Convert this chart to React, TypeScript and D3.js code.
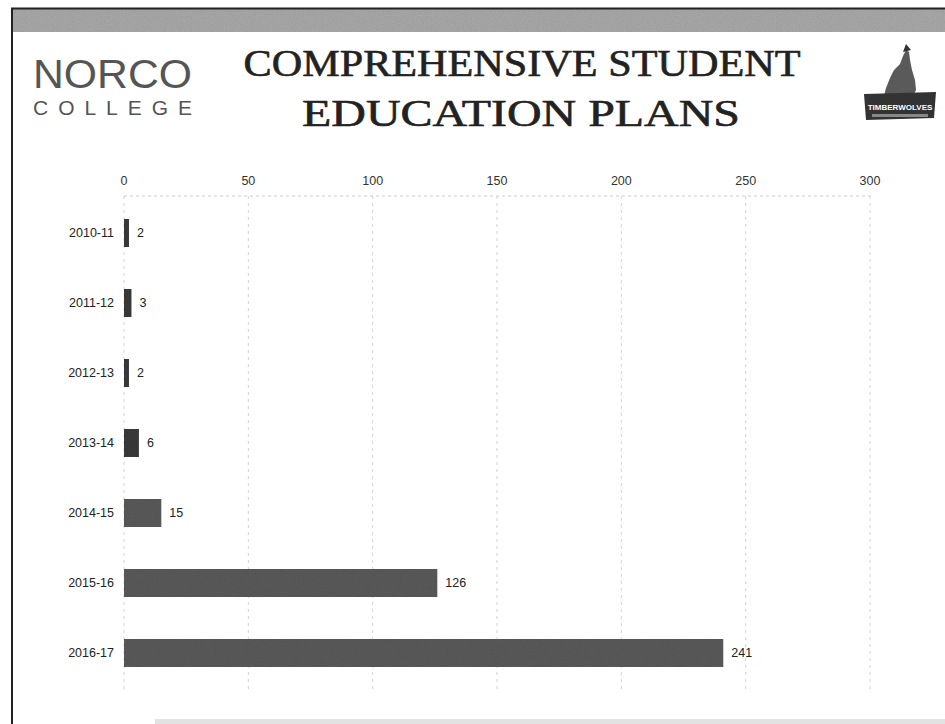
import React from "react";
import * as d3 from "d3";

const categories = ["2010-11", "2011-12", "2012-13", "2013-14", "2014-15", "2015-16", "2016-17"];
const values = [2, 3, 2, 6, 15, 126, 241];
const tickValues = [0, 50, 100, 150, 200, 250, 300];

const W = 945;
const H = 724;

export default function App() {
  const x = d3.scaleLinear().domain([0, 300]).range([124, 870]);
  const y = d3
    .scaleBand<string>()
    .domain(categories)
    .range([198, 688])
    .paddingInner(0.6)
    .paddingOuter(0.3);
  const font = "Arial, 'Liberation Sans', sans-serif";
  const serif = "'Liberation Serif', 'DejaVu Serif', serif";

  return (
    <svg
      width={W}
      height={H}
      viewBox={`0 0 ${W} ${H}`}
      style={{ position: "absolute", left: 0, top: 0, background: "#fff" }}
    >
      <defs>
        <filter id="grain" x="0" y="0" width="100%" height="100%">
          <feTurbulence type="fractalNoise" baseFrequency="0.9" numOctaves="2" seed="3" result="n" />
          <feColorMatrix in="n" type="saturate" values="0" result="g" />
          <feComponentTransfer in="g" result="g2">
            <feFuncA type="linear" slope="0.35" />
          </feComponentTransfer>
          <feComposite in="g2" in2="SourceGraphic" operator="in" result="g3" />
          <feBlend in="SourceGraphic" in2="g3" mode="multiply" />
        </filter>
      </defs>

      {/* page frame */}
      <rect x={12} y={9} width={W - 12} height={23} fill="#a9a9a9" filter="url(#grain)" />
      <line x1={11} x2={W} y1={8.5} y2={8.5} stroke="#222" strokeWidth={2} />
      <line x1={12} x2={12} y1={8} y2={H} stroke="#222" strokeWidth={2} />
      <rect x={155} y={719} width={W - 155} height={5} fill="#e2e2e2" />

      {/* Norco College logo */}
      <text x={33} y={88} fontFamily={font} fontSize={41} fill="#555" textLength={159} lengthAdjust="spacingAndGlyphs">
        NORCO
      </text>
      <text x={33} y={115} fontFamily={font} fontSize={21} fill="#555" textLength={159} lengthAdjust="spacing">
        COLLEGE
      </text>

      {/* Title */}
      <text x={522} y={76} textAnchor="middle" fontFamily={serif} fontSize={37} fill="#222" stroke="#222" strokeWidth={0.6} textLength={557} lengthAdjust="spacingAndGlyphs">
        COMPREHENSIVE STUDENT
      </text>
      <text x={521} y={126} textAnchor="middle" fontFamily={serif} fontSize={37} fill="#222" stroke="#222" strokeWidth={0.6} textLength={438} lengthAdjust="spacingAndGlyphs">
        EDUCATION PLANS
      </text>

      {/* Timberwolves logo */}
      <g>
        <path
          d="M906,50 L903,56 L900,64 L894,70 L890,78 L886,88 L884,96 L890,98 L912,98 L916,90 L915,80 L912,70 L910,60 L909,52 Z"
          fill="#5a5a5a"
        />
        <path d="M903,52 L906,44 L911,50 Z" fill="#333" />
        <path d="M864,94 L936,92 L934,118 L866,120 Z" fill="#333" />
        <text x={900} y={110} textAnchor="middle" fontFamily={font} fontWeight="bold" fontSize={8} fill="#fff">
          TIMBERWOLVES
        </text>
        <rect x={872} y={114} width={56} height={3} fill="#888" />
      </g>

      {/* grid */}
      <line x1={x(0)} x2={x(300) + 2} y1={196} y2={196} stroke="#ccc" strokeDasharray="3,3" />
      {tickValues.map((t) => (
        <g key={t}>
          <line x1={x(t)} x2={x(t)} y1={196} y2={690} stroke="#d4d4d4" strokeDasharray="3,4" />
          <text x={x(t)} y={185} textAnchor="middle" fontFamily={font} fontSize={12.5} fill="#333">
            {t}
          </text>
        </g>
      ))}

      {/* bars */}
      {categories.map((c, i) => {
        const by = y(c) ?? 0;
        const bh = y.bandwidth();
        return (
          <g key={c}>
            <rect
              x={x(0)}
              y={by}
              width={x(values[i]) - x(0)}
              height={bh}
              fill={values[i] < 10 ? "#3a3a3a" : "#5a5a5a"}
              filter="url(#grain)"
            />
            <text x={114} y={by + bh / 2} dy="0.35em" textAnchor="end" fontFamily={font} fontSize={12.5} fill="#222">
              {c}
            </text>
            <text x={x(values[i]) + 8} y={by + bh / 2} dy="0.35em" fontFamily={font} fontSize={12.5} fill="#222">
              {values[i]}
            </text>
          </g>
        );
      })}
    </svg>
  );
}
